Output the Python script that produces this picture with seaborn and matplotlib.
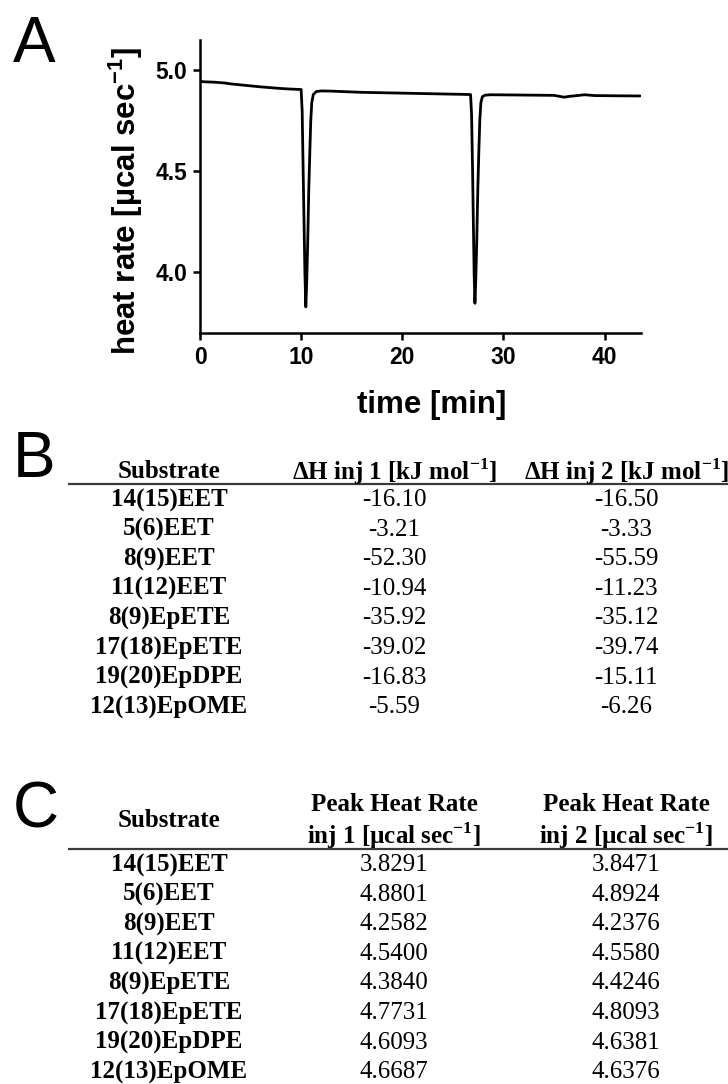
import matplotlib

matplotlib.use("Agg")
import matplotlib.pyplot as plt
import pandas as pd
import seaborn as sns

# Panel A: raw ITC trace (time in min, heat rate in ucal/s)
time_min = [
    0.0, 0.5, 1.5, 2.5, 3.0, 4.0, 5.0, 6.0, 7.0, 8.0, 9.0, 10.0,
    10.1, 10.2, 10.37, 10.46, 10.55, 10.65, 10.75, 10.86, 10.95, 11.05, 11.2, 11.5,
    12.0, 13.0, 14.0, 15.0, 16.0, 18.0, 20.0, 22.0, 24.0, 26.0, 26.75,
    26.85, 26.95, 27.1, 27.18, 27.27, 27.37, 27.47, 27.58, 27.67, 27.77, 27.92, 28.2,
    28.7, 31.0, 33.0, 35.0, 36.0, 36.5, 37.5, 38.0, 39.0, 41.0, 43.5,
]
heat_rate = [
    4.945, 4.943, 4.941, 4.937, 4.933, 4.928, 4.923, 4.918, 4.914, 4.910, 4.907, 4.905,
    4.80, 4.50, 4.00, 3.829, 3.95, 4.15, 4.40, 4.60, 4.75, 4.84, 4.88, 4.895,
    4.898, 4.897, 4.895, 4.893, 4.891, 4.889, 4.887, 4.885, 4.883, 4.881, 4.880,
    4.78, 4.50, 4.00, 3.847, 3.97, 4.17, 4.42, 4.62, 4.76, 4.84, 4.87, 4.877,
    4.879, 4.878, 4.877, 4.876, 4.867, 4.871, 4.876, 4.879, 4.875, 4.874, 4.873,
]

# Panels B and C: tables
substrates = [
    "14(15)EET", "5(6)EET", "8(9)EET", "11(12)EET",
    "8(9)EpETE", "17(18)EpETE", "19(20)EpDPE", "12(13)EpOME",
]
dh_inj1 = [-16.10, -3.21, -52.30, -10.94, -35.92, -39.02, -16.83, -5.59]
dh_inj2 = [-16.50, -3.33, -55.59, -11.23, -35.12, -39.74, -15.11, -6.26]
peak_inj1 = [3.8291, 4.8801, 4.2582, 4.5400, 4.3840, 4.7731, 4.6093, 4.6687]
peak_inj2 = [3.8471, 4.8924, 4.2376, 4.5580, 4.4246, 4.8093, 4.6381, 4.6376]

sns.set_style("ticks")
plt.rcParams["font.family"] = ["Liberation Sans", "DejaVu Sans"]
plt.rcParams["mathtext.fontset"] = "custom"
plt.rcParams["mathtext.rm"] = "Liberation Serif"
plt.rcParams["mathtext.bf"] = "Liberation Serif:bold"
plt.rcParams["mathtext.sf"] = "Liberation Sans:bold"
for key in ["text.color", "axes.labelcolor", "xtick.color", "ytick.color",
            "axes.edgecolor"]:
    plt.rcParams[key] = "black"

W, H = 728, 1084
fig = plt.figure(figsize=(W / 100, H / 100), dpi=100)


def px_axes(left, top, right, bottom):
    return fig.add_axes([left / W, 1 - bottom / H, (right - left) / W, (bottom - top) / H])


# ---- panel A ----
ax = px_axes(200, 40, 641, 333)
trace = pd.DataFrame({"time": time_min, "heat": heat_rate})
sns.lineplot(data=trace, x="time", y="heat", sort=False, estimator=None,
             color="black", linewidth=2.0, ax=ax)
ax.set_xlim(0, 43.6)
ax.set_ylim(3.70, 5.15)
ax.set_xticks([0, 10, 20, 30, 40])
ax.set_yticks([4.0, 4.5, 5.0])
ax.set_yticklabels(["4.0", "4.5", "5.0"])
sns.despine(ax=ax)
for side in ["left", "bottom"]:
    ax.spines[side].set_linewidth(1.8)
ax.tick_params(width=1.8, length=5, labelsize=16.5, pad=4)
for lab in ax.get_xticklabels() + ax.get_yticklabels():
    lab.set_fontweight("bold")
ax.set_xlabel("time [min]", fontsize=22.5, fontweight="bold", va="top")
ax.xaxis.set_label_coords(0.526, -0.195)
ax.set_ylabel("heat rate [µcal sec$^{\\mathsf{-1}}$]", fontsize=22.5,
              fontweight="bold")
ax.yaxis.set_label_coords(-0.125, 0.45)

fig.text(13 / W, 1 - 62 / H, "A", fontsize=46, va="baseline", ha="left")
fig.text(13 / W, 1 - 477 / H, "B", fontsize=46, va="baseline", ha="left")
fig.text(13 / W, 1 - 827 / H, "C", fontsize=46, va="baseline", ha="left")

serif = ["Liberation Serif", "DejaVu Serif"]
col_x = [169, 394, 626]
TS = 18


def table_axes(top, bottom, ylo, yhi):
    tax = px_axes(0, top, W, bottom)
    tax.set_xlim(0, W)
    tax.set_ylim(yhi, ylo)
    tax.axis("off")
    tax.plot([68, W], [-0.54, -0.54], color="#3a3a3a", linewidth=1.6,
             solid_capstyle="butt", clip_on=False)
    return tax


def table_body(tax, col1, col2, fmt):
    for i, (name, v1, v2) in enumerate(zip(substrates, col1, col2)):
        tax.text(col_x[0], i, name, family=serif, fontweight="bold", fontsize=TS,
                 ha="center", va="center")
        tax.text(col_x[1], i, fmt.format(v1), family=serif, fontsize=TS,
                 ha="center", va="center")
        tax.text(col_x[2], i, fmt.format(v2), family=serif, fontsize=TS,
                 ha="center", va="center")


# ---- panel B ----
row_h = 29.6
bx = table_axes(500 - 1.5 * row_h, 500 + 7.5 * row_h, -1.5, 7.5)
bx.text(col_x[0], -0.95, "Substrate", family=serif, fontweight="bold",
        fontsize=TS, ha="center", va="center")
bx.text(col_x[1], -0.95, "ΔH inj 1 [kJ mol$^{\\mathbf{-1}}$]", family=serif,
        fontweight="bold", fontsize=TS, ha="center", va="center")
bx.text(col_x[2], -0.95, "ΔH inj 2 [kJ mol$^{\\mathbf{-1}}$]", family=serif,
        fontweight="bold", fontsize=TS, ha="center", va="center")
table_body(bx, dh_inj1, dh_inj2, "{:.2f}")

# ---- panel C ----
cx = table_axes(865 - 2.6 * row_h, 865 + 7.4 * row_h, -2.6, 7.4)
cx.text(col_x[0], -1.49, "Substrate", family=serif, fontweight="bold",
        fontsize=TS, ha="center", va="center")
for j, inj in enumerate(["1", "2"]):
    cx.text(col_x[j + 1], -2.03, "Peak Heat Rate", family=serif,
            fontweight="bold", fontsize=TS, ha="center", va="center")
    cx.text(col_x[j + 1], -1.0, f"inj {inj} [µcal sec$^{{\\mathbf{{-1}}}}$]",
            family=serif, fontweight="bold", fontsize=TS, ha="center", va="center")
table_body(cx, peak_inj1, peak_inj2, "{:.4f}")

fig.savefig("out.png", dpi=100)
